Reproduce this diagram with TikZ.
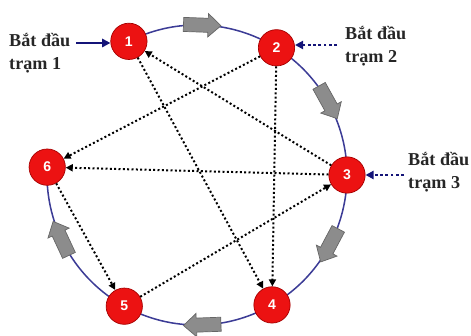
\documentclass[tikz,border=0pt]{standalone}
\usepackage{fontspec}
\setmainfont{Liberation Serif}
\setsansfont{Liberation Sans}
\usetikzlibrary{arrows.meta,calc}
\definecolor{ringblue}{RGB}{60,60,150}
\definecolor{startnavy}{RGB}{20,20,120}
\definecolor{stationred}{RGB}{236,18,18}
\tikzset{
 station/.style={circle,fill=stationred,draw=red!65!black,line width=0.6pt,
   minimum size=31pt,inner sep=0pt,text=white,font=\sffamily\bfseries\large},
 startlabel/.style={anchor=north west,align=left,inner sep=0pt,
   font=\fontsize{15.5}{19.5}\selectfont\bfseries,text=black!85},
 hop/.style={-{Triangle[length=6pt,width=6pt]},dotted,line width=1.7pt},
 startarrow/.style={startnavy,-{Triangle[length=7pt,width=7pt]}},
 flowarrow/.pic={
   \draw [draw=black!60,fill=black!45,line width=0.6pt]
     (-16pt,-6pt) -- (5pt,-6pt) -- (5pt,-10pt) -- (16pt,0pt)
     -- (5pt,10pt) -- (5pt,6pt) -- (-16pt,6pt) -- cycle;}
}
\begin{document}
\begin{tikzpicture}[x=0.03cm,y=0.03cm]
\useasboundingbox (0,0) rectangle (471,336);
\coordinate (c) at (197,161);

% ring, open between 6 and 1
\draw [ringblue,line width=1.3pt] ($(c)+(117:150)$)
  arc [start angle=117,end angle=-183,radius=150];
\foreach \a in {88,29,-28,-88,-155}
  \pic [rotate=\a-90] at ($(c)+(\a:150)$) {flowarrow};

% stations
\foreach \n/\a in {1/117,2/58,3/0,4/-60,5/-119,6/177}
  \node [station] (n\n) at ($(c)+(\a:150)$) {\n};

% hops
\draw [hop] (n2) -- (n6);
\draw [hop] (n3) -- (n1);
\draw [hop] (n3) -- (n6);
\draw [hop] (n1) -- (n4);
\draw [hop] (n2) -- (n4);
\draw [hop] (n5) -- (n3);
\draw [hop] (n6) -- (n5);

% start points
\node [startlabel] (l1) at (9,303) {Bắt đầu\\trạm 1};
\node [startlabel] (l2) at (345,310) {Bắt đầu\\trạm 2};
\node [startlabel] (l3) at (408,184) {Bắt đầu\\trạm 3};
\coordinate (s1) at (76,293);
\coordinate (s2) at (337,291);
\coordinate (s3) at (404,161);
\draw [startarrow,line width=1.8pt] (s1) -- (s1 -| n1.west);
\draw [startarrow,dotted,line width=2.5pt] (s2) -- (s2 -| n2.east);
\draw [startarrow,dotted,line width=2.5pt] (s3) -- (s3 -| n3.east);
\end{tikzpicture}
\end{document}
